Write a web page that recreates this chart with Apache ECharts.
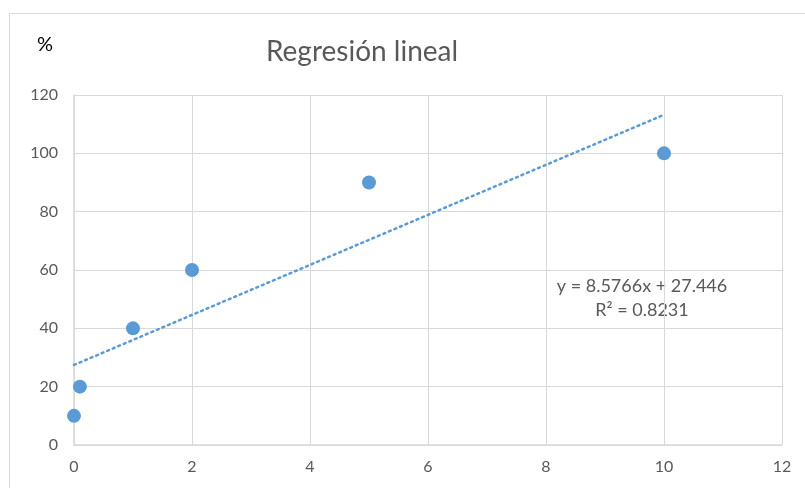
<!DOCTYPE html>
<html>
<head>
<meta charset="utf-8">
<script src="https://cdn.jsdelivr.net/npm/echarts@6/dist/echarts.min.js"></script>
<style>html,body{margin:0;padding:0;background:#fff}#c{width:805px;height:488px}</style>
</head>
<body>
<div id="c"></div>
<script>
var titleText = 'Regresión lineal';
var yUnit = '%';
var xValues = [0, 0.1, 1, 2, 5, 10];
var yValues = [10, 20, 40, 60, 90, 100];
var trendX = [0, 10];
var trendY = [27.446, 113.212];
var equationText = 'y = 8.5766x + 27.446';
var r2Text = 'R² = 0.8231';

var font = 'Lato, "Open Sans", sans-serif';
var chart = echarts.init(document.getElementById('c'));
var gridColor = '#d9d9d9';
chart.setOption({
  animation: false,
  graphic: [
    {type: 'rect', shape: {x: 9.5, y: 13.5, width: 900, height: 600},
     style: {fill: 'none', stroke: '#d9d9d9', lineWidth: 1}, silent: true},
    {type: 'text', x: 362, y: 52,
     style: {text: titleText, fontFamily: font, fontSize: 28, fill: '#595959',
             align: 'center', verticalAlign: 'middle'}},
    {type: 'text', left: 37, top: 35,
     style: {text: yUnit, fontFamily: font, fontSize: 20, fill: '#000'}},
    {type: 'text', x: 642, y: 286,
     style: {text: equationText, fontFamily: font, fontSize: 18, fill: '#595959',
             align: 'center', verticalAlign: 'middle'}},
    {type: 'text', x: 642, y: 310,
     style: {text: r2Text, fontFamily: font, fontSize: 18, fill: '#595959',
             align: 'center', verticalAlign: 'middle'}}
  ],
  grid: {left: 74, right: 23, top: 95, bottom: 43, containLabel: false},
  xAxis: {
    type: 'value', min: 0, max: 12, interval: 2,
    axisLine: {show: true, onZero: false, lineStyle: {color: gridColor, width: 1.5}},
    axisTick: {show: false},
    splitLine: {show: true, lineStyle: {color: gridColor, width: 1}},
    axisLabel: {fontFamily: font, fontSize: 16, color: '#595959', margin: 14}
  },
  yAxis: {
    type: 'value', min: 0, max: 120, interval: 20,
    axisLine: {show: true, onZero: false, lineStyle: {color: gridColor, width: 1.5}},
    axisTick: {show: false},
    splitLine: {show: true, lineStyle: {color: gridColor, width: 1}},
    axisLabel: {fontFamily: font, fontSize: 16, color: '#595959', margin: 16}
  },
  series: [
    {
      type: 'line',
      data: trendX.map(function (x, i) { return [x, trendY[i]]; }),
      showSymbol: false, symbol: 'none',
      lineStyle: {color: '#5B9BD5', width: 2.5, type: [2, 4], cap: 'round'},
      z: 2
    },
    {
      type: 'scatter',
      data: xValues.map(function (x, i) { return [x, yValues[i]]; }),
      symbolSize: 14,
      itemStyle: {color: '#5B9BD5', opacity: 1},
      z: 3
    }
  ]
});
</script>
</body>
</html>
